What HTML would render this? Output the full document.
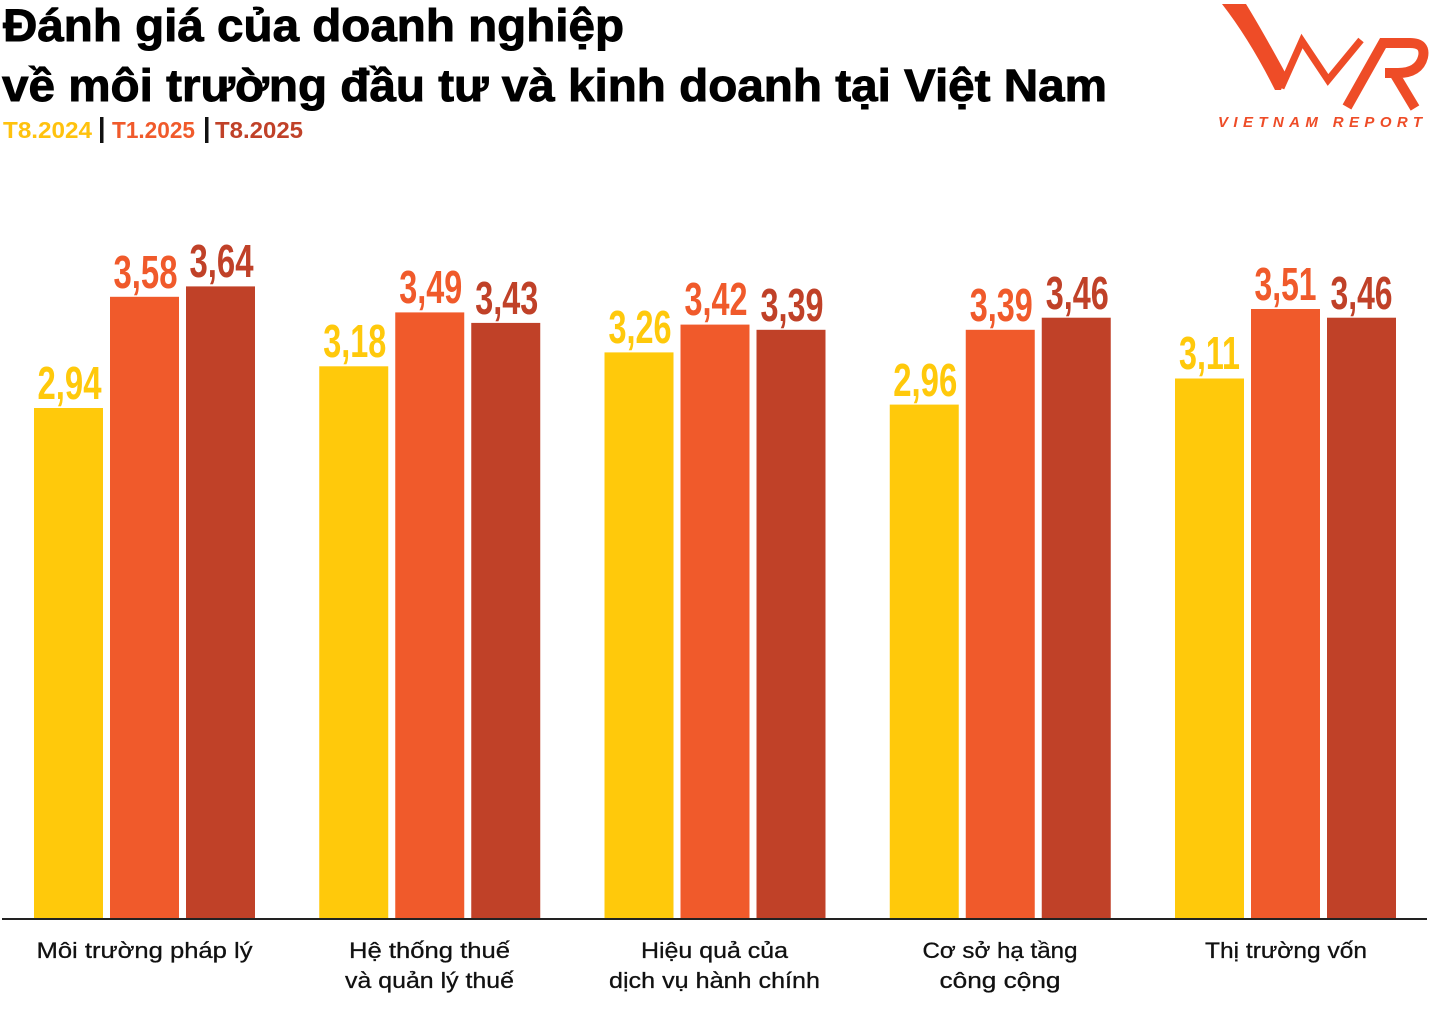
<!DOCTYPE html>
<html>
<head>
<meta charset="utf-8">
<style>
  html, body { margin:0; padding:0; background:#ffffff; }
  svg { display:block; }
  .t { font-family:"Liberation Sans", "DejaVu Sans", sans-serif; font-weight:bold; fill:#000; }
  .v { font-family:"Liberation Sans", "DejaVu Sans", sans-serif; font-weight:bold; font-size:46px; text-anchor:middle; }
  .a { font-family:"Liberation Sans", "DejaVu Sans", sans-serif; font-size:22px; fill:#111; text-anchor:middle; stroke:#111; stroke-width:0.3; }
</style>
</head>
<body>
<svg width="1430" height="1011" viewBox="0 0 1430 1011" xmlns="http://www.w3.org/2000/svg">
  <rect x="0" y="0" width="1430" height="1011" fill="#ffffff"/>

  <!-- Title -->
  <text class="t" x="3" y="41" font-size="45" stroke="#000" stroke-width="0.9" textLength="621" lengthAdjust="spacingAndGlyphs">Đánh giá của doanh nghiệp</text>
  <text class="t" x="2" y="101" font-size="45" stroke="#000" stroke-width="0.9" textLength="1105" lengthAdjust="spacingAndGlyphs">về môi trường đầu tư và kinh doanh tại Việt Nam</text>

  <!-- Subtitle legend -->
  <text class="t" x="3" y="138" font-size="23" style="fill:#FFC20E" textLength="89" lengthAdjust="spacingAndGlyphs">T8.2024</text>
  <rect x="100" y="117" width="3.5" height="26" fill="#111"/>
  <text class="t" x="112" y="138" font-size="23" style="fill:#F05A2B" textLength="83" lengthAdjust="spacingAndGlyphs">T1.2025</text>
  <rect x="205" y="117" width="3.5" height="26" fill="#111"/>
  <text class="t" x="215" y="138" font-size="23" style="fill:#C04128" textLength="88" lengthAdjust="spacingAndGlyphs">T8.2025</text>

  <!-- Logo -->
  <g fill="#EE4C27" stroke="none">
    <path d="M1222,4 L1246,4 Q1262,30 1287,76 L1281,90 L1275,90 Q1250,40 1222,4 Z"/>
  </g>
  <g fill="none" stroke="#EE4C27" stroke-linejoin="miter">
    <polyline points="1281,88 1302,41 1328,80 1361,40" stroke-width="7"/>
    <path d="M1347,107 L1383,43 L1410,43 Q1426,43 1423,57 Q1419,73 1398,73 L1385,73 M1394,73 L1415,108" stroke-width="10"/>
  </g>
  <text x="1218" y="127" font-family="Liberation Sans, DejaVu Sans, sans-serif" font-weight="bold" font-style="italic" font-size="15" fill="#EE4C27" textLength="204" lengthAdjust="spacing">VIETNAM REPORT</text>

  <!-- Bars -->
  <g>
    <rect x="34" y="408.0" width="69" height="511.0" fill="#FFC90B"/>
    <rect x="110" y="296.8" width="69" height="622.2" fill="#F05A2B"/>
    <rect x="186" y="286.4" width="69" height="632.6" fill="#C04128"/>

    <rect x="319.25" y="366.3" width="69" height="552.7" fill="#FFC90B"/>
    <rect x="395.25" y="312.4" width="69" height="606.6" fill="#F05A2B"/>
    <rect x="471.25" y="322.9" width="69" height="596.1" fill="#C04128"/>

    <rect x="604.5" y="352.4" width="69" height="566.6" fill="#FFC90B"/>
    <rect x="680.5" y="324.6" width="69" height="594.4" fill="#F05A2B"/>
    <rect x="756.5" y="329.8" width="69" height="589.2" fill="#C04128"/>

    <rect x="889.75" y="404.6" width="69" height="514.4" fill="#FFC90B"/>
    <rect x="965.75" y="329.8" width="69" height="589.2" fill="#F05A2B"/>
    <rect x="1041.75" y="317.7" width="69" height="601.3" fill="#C04128"/>

    <rect x="1175" y="378.5" width="69" height="540.5" fill="#FFC90B"/>
    <rect x="1251" y="309.0" width="69" height="610.0" fill="#F05A2B"/>
    <rect x="1327" y="317.7" width="69" height="601.3" fill="#C04128"/>
  </g>

  <!-- Value labels -->
  <g class="v">
    <text x="69.5" y="399" fill="#FFC90B" textLength="64" lengthAdjust="spacingAndGlyphs">2,94</text>
    <text x="145.5" y="288" fill="#F05A2B" textLength="64" lengthAdjust="spacingAndGlyphs">3,58</text>
    <text x="221.5" y="277" fill="#C04128" textLength="64" lengthAdjust="spacingAndGlyphs">3,64</text>

    <text x="354.75" y="357" fill="#FFC90B" textLength="63" lengthAdjust="spacingAndGlyphs">3,18</text>
    <text x="430.75" y="303" fill="#F05A2B" textLength="63" lengthAdjust="spacingAndGlyphs">3,49</text>
    <text x="506.75" y="314" fill="#C04128" textLength="63" lengthAdjust="spacingAndGlyphs">3,43</text>

    <text x="640" y="343" fill="#FFC90B" textLength="63" lengthAdjust="spacingAndGlyphs">3,26</text>
    <text x="716" y="315" fill="#F05A2B" textLength="63" lengthAdjust="spacingAndGlyphs">3,42</text>
    <text x="792" y="321" fill="#C04128" textLength="63" lengthAdjust="spacingAndGlyphs">3,39</text>

    <text x="925.25" y="396" fill="#FFC90B" textLength="64" lengthAdjust="spacingAndGlyphs">2,96</text>
    <text x="1001.25" y="321" fill="#F05A2B" textLength="63" lengthAdjust="spacingAndGlyphs">3,39</text>
    <text x="1077.25" y="309" fill="#C04128" textLength="63" lengthAdjust="spacingAndGlyphs">3,46</text>

    <text x="1209.5" y="369" fill="#FFC90B" textLength="61" lengthAdjust="spacingAndGlyphs">3,11</text>
    <text x="1285.5" y="300" fill="#F05A2B" textLength="62" lengthAdjust="spacingAndGlyphs">3,51</text>
    <text x="1361.5" y="309" fill="#C04128" textLength="62" lengthAdjust="spacingAndGlyphs">3,46</text>
  </g>

  <!-- Baseline -->
  <rect x="2" y="918" width="1425" height="2" fill="#222"/>

  <!-- Category labels -->
  <g class="a">
    <text x="144.5" y="958" textLength="216" lengthAdjust="spacingAndGlyphs">Môi trường pháp lý</text>

    <text x="429.5" y="958" textLength="161" lengthAdjust="spacingAndGlyphs">Hệ thống thuế</text>
    <text x="429.5" y="988" textLength="169" lengthAdjust="spacingAndGlyphs">và quản lý thuế</text>

    <text x="714.5" y="958" textLength="147" lengthAdjust="spacingAndGlyphs">Hiệu quả của</text>
    <text x="714.5" y="988" textLength="211" lengthAdjust="spacingAndGlyphs">dịch vụ hành chính</text>

    <text x="1000" y="958" textLength="155" lengthAdjust="spacingAndGlyphs">Cơ sở hạ tầng</text>
    <text x="1000" y="988" textLength="121" lengthAdjust="spacingAndGlyphs">công cộng</text>

    <text x="1286" y="958" textLength="162" lengthAdjust="spacingAndGlyphs">Thị trường vốn</text>
  </g>
</svg>
</body>
</html>
